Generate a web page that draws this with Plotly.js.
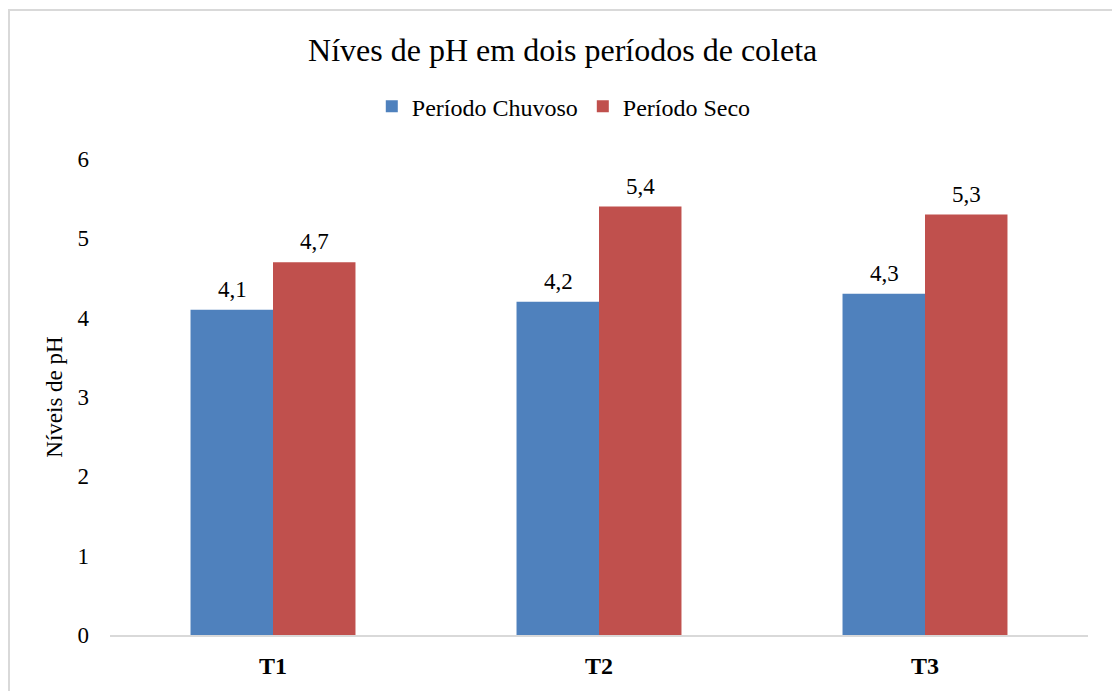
<!DOCTYPE html>
<html>
<head>
<meta charset="utf-8">
<script src="https://cdn.plot.ly/plotly-3.0.1.min.js"></script>
<style>
html, body { margin: 0; padding: 0; overflow: hidden; background: #ffffff; }
#frame { position: absolute; left: 8px; top: 9px; width: 1200px; height: 800px; border: 2px solid #d9d9d9; box-sizing: border-box; }
#chart { position: absolute; left: 0; top: 0; width: 1112px; height: 691px; }
</style>
</head>
<body>
<div id="frame"></div>
<div id="chart"></div>
<script>
const categories = ["T1", "T2", "T3"];
const seriesNames = ["Período Chuvoso", "Período Seco"];
const chuvoso = [4.1, 4.2, 4.3];
const seco = [4.7, 5.4, 5.3];
const yTicks = [0, 1, 2, 3, 4, 5, 6];

const fmt = v => v.toFixed(1).replace('.', ',');
const serif = "Liberation Serif";

const traces = [
  {
    type: 'bar', name: seriesNames[0], x: categories, y: chuvoso,
    marker: { color: '#4F81BD' },
    hoverinfo: 'none'
  },
  {
    type: 'bar', name: seriesNames[1], x: categories, y: seco,
    marker: { color: '#C0504D' },
    hoverinfo: 'none'
  }
];

// data labels above each bar, from the series arrays
const annotations = [];
[chuvoso, seco].forEach((vals, si) => {
  vals.forEach((v, i) => {
    annotations.push({
      x: categories[i], y: v, xref: 'x', yref: 'y',
      text: fmt(v), showarrow: false,
      xshift: si === 0 ? -41 : 41, yanchor: 'bottom', yshift: 6,
      font: { family: serif, size: 23, color: '#000000' }
    });
  });
});

const layout = {
  width: 1112, height: 691,
  margin: { l: 110, r: 24, t: 159, b: 56 },
  paper_bgcolor: 'rgba(0,0,0,0)',
  plot_bgcolor: 'rgba(0,0,0,0)',
  font: { family: serif, size: 23, color: '#000000' },
  title: {
    text: 'Níves de pH em dois períodos de coleta',
    font: { family: serif, size: 32, color: '#000000' },
    x: 0.506, xref: 'container', xanchor: 'center',
    y: 1 - 50 / 691, yref: 'container', yanchor: 'middle'
  },
  barmode: 'group',
  bargap: 0.494,
  bargroupgap: 0,
  showlegend: true,
  legend: {
    orientation: 'h',
    x: 0.464, xanchor: 'center',
    y: 1.11, yanchor: 'middle',
    font: { family: serif, size: 24, color: '#000000' },
    itemwidth: 30,
    traceorder: 'normal'
  },
  annotations: annotations,
  xaxis: {
    type: 'category',
    showgrid: false, zeroline: false,
    showline: true, linecolor: '#d9d9d9', linewidth: 2,
    ticks: '',
    tickfont: { family: serif, size: 24, color: '#000000', weight: 'bold' },
    ticklabelstandoff: 8,
    fixedrange: true
  },
  yaxis: {
    range: [0, 6],
    tickvals: yTicks,
    ticktext: yTicks.map(String),
    showgrid: false, zeroline: false, showline: false,
    ticks: '',
    tickfont: { family: serif, size: 23, color: '#000000' },
    ticklabelstandoff: 20,
    title: { text: 'Níveis de pH', font: { family: serif, size: 23, color: '#000000' }, standoff: 8 },
    fixedrange: true
  }
};

Plotly.newPlot('chart', traces, layout, { staticPlot: true, displayModeBar: false });
</script>
</body>
</html>
